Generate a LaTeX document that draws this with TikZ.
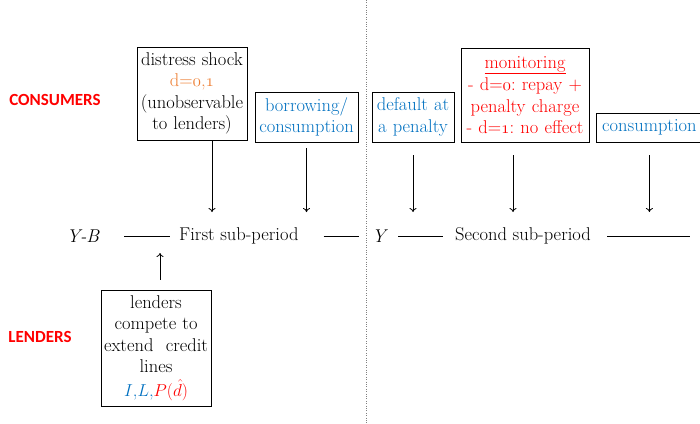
\documentclass[tikz,border=0pt]{standalone}
\usepackage{fontspec}
\usepackage{xcolor}
\usetikzlibrary{arrows.meta,positioning}
\newfontfamily\calib{Carlito}
\definecolor{lblue}{RGB}{0,112,192}
\definecolor{lorange}{RGB}{237,125,49}
\definecolor{lred}{RGB}{255,0,0}

\begin{document}
\begin{tikzpicture}[x=1pt,y=-1pt,
  box/.style={draw,line width=0.8pt,align=center,inner sep=2pt,
    font=\fontsize{18.5}{21.5}\selectfont\frenchspacing},
  side/.style={font=\calib\bfseries\fontsize{17}{20}\selectfont,text=lred},
  tl/.style={font=\fontsize{18.5}{20}\selectfont,inner sep=0pt},
  arr/.style={-{To[length=4pt,width=7pt]},line width=0.8pt}]
  \useasboundingbox (0,0) rectangle (700,423);
  \draw[gray,dotted,thin] (366,0) -- (366,423);

  \node[side] (cons) at (55,100) {CONSUMERS};
  \node[side] (lend) at (40,337) {LENDERS};

  % consumers, first and second sub-period
  \node[box,text width=106pt,minimum height=93pt] (shock) at (192,93.5)
    {distress shock\\\textcolor{lorange}{d=$\mathnormal{0}$,$\mathnormal{1}$}\\(unobservable\\to lenders)};
  \node[box,text=lblue,text width=99pt,minimum height=50pt] (borrow) at (306.5,117)
    {borrowing/\\consumption};
  \node[box,text=lblue,text width=78pt,minimum height=50pt] (default) at (413,117)
    {default at\\a penalty};
  \node[box,text=lred,text width=124pt,minimum height=94pt] (monitor) at (525,95)
    {\underline{monitoring}\\[1pt]- d=$\mathnormal{0}$: repay +\\penalty charge\\- d=$\mathnormal{1}$: no effect};
  \node[box,text=lblue,text width=102pt,minimum height=29pt,anchor=west] (consum) at (596,127.5)
    {consumption};

  % lenders
  \node[box,text width=106pt,minimum height=116pt] (lenders) at (156,348)
    {lenders\\compete to\\extend\ \ credit\\lines\\[2pt]\textcolor{lblue}{$I$,$L$,}\textcolor{lred}{$P(\hat{d})$}};

  % time line
  \node[tl,anchor=east] (yb) at (100,236) {\textit{Y-B}};
  \node[tl,anchor=west] (first) at (179,236) {First sub-period};
  \node[tl] (y) at (380,236) {\textit{Y}};
  \node[tl,anchor=west] (second) at (455,236) {Second sub-period};
  \coordinate (end) at (690,236);
  \draw[line width=0.8pt,shorten <=24pt,shorten >=9pt] (yb) -- (first);
  \draw[line width=0.8pt,shorten <=25pt,shorten >=13pt] (first) -- (y);
  \draw[line width=0.8pt,shorten <=10pt,shorten >=12pt] (y) -- (second);
  \draw[line width=0.8pt,shorten <=16pt] (second) -- (end);

  \coordinate (tip) at (0,212);
  \coordinate (up) at (0,253);
  \draw[arr] ([xshift=20pt]shock.south) -- ([xshift=20pt]shock.south |- tip);
  \draw[arr,shorten <=6pt] (borrow.south) -- (borrow.south |- tip);
  \draw[arr,shorten <=13pt] (default.south) -- (default.south |- tip);
  \draw[arr,shorten <=13pt] ([xshift=-12pt]monitor.south) -- ([xshift=-12pt]monitor.south |- tip);
  \draw[arr,shorten <=13pt] (consum.south) -- (consum.south |- tip);
  \draw[arr,shorten <=10pt] ([xshift=4pt]lenders.north) -- ([xshift=4pt]lenders.north |- up);
\end{tikzpicture}
\end{document}
